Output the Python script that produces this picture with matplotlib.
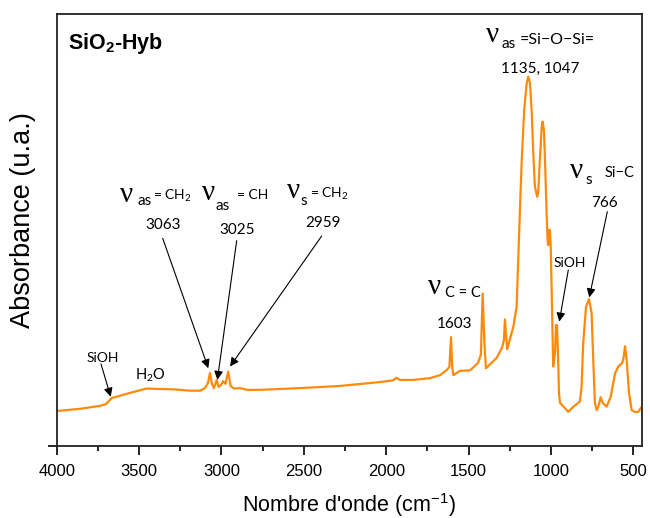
import matplotlib
matplotlib.use("Agg")
import matplotlib.pyplot as plt
from matplotlib.ticker import MultipleLocator

# ---------------- data ----------------
wavenumber = [4000, 3859, 3737, 3701, 3666, 3628, 3555, 3454, 3373, 3282, 3191, 3130,
              3100, 3082, 3070, 3058, 3046, 3029, 3018, 3003, 2991, 2976, 2959, 2945,
              2924, 2888, 2845, 2767, 2524, 2281, 2038, 1959, 1937, 1917, 1838, 1735,
              1674, 1633, 1617, 1607, 1600, 1593, 1553, 1492, 1444, 1426, 1415, 1404,
              1395, 1330, 1298, 1286, 1280, 1266, 1229, 1209, 1189, 1178, 1163, 1148,
              1138, 1128, 1118, 1108, 1098, 1084, 1078, 1068, 1057, 1051, 1043, 1035,
              1027, 1021, 1017, 1013, 1007, 1002, 996, 987, 976, 970, 964, 958, 952,
              946, 916, 896, 867, 825, 815, 805, 788, 770, 754, 744, 734, 723, 713,
              699, 687, 663, 638, 612, 592, 571, 562, 551, 541, 527, 511, 491, 471, 455]
absorbance = [8.1, 8.6, 9.3, 9.7, 11.1, 11.5, 12.3, 13.3, 13.2, 13.1, 12.8, 12.8,
              13.4, 14.6, 16.9, 14.4, 13.4, 15.3, 13.7, 14.1, 15.0, 14.4, 17.2, 13.9,
              13.3, 13.4, 13.0, 13.0, 13.4, 13.9, 14.8, 15.2, 15.8, 15.3, 15.3, 15.7,
              16.4, 17.6, 18.3, 25.2, 18.3, 16.4, 17.4, 17.5, 19.2, 21.1, 35.3, 23.4,
              18.0, 20.4, 22.7, 24.5, 29.3, 22.4, 27.6, 32.2, 54.6, 66.2, 77.8, 84.0,
              85.5, 84.0, 77.8, 67.8, 60.0, 57.7, 58.8, 66.2, 73.8, 75.1, 73.1, 63.9,
              53.9, 47.7, 46.5, 50.0, 50.0, 46.1, 35.4, 18.4, 21.5, 28.0, 28.0, 21.5, 12.3,
              10.0, 8.8, 7.9, 9.0, 10.3, 13.7, 23.8, 32.2, 34.0, 30.8, 19.9, 10.0, 8.3, 9.1,
              11.3, 10.0, 9.1, 11.4, 16.8, 18.4, 19.1, 19.9, 23.1, 19.9, 12.3, 8.3, 7.9, 7.9, 8.8]

xticks = [4000, 3500, 3000, 2500, 2000, 1500, 1000, 500]
xtick_labels = ["4000", "3500", "3000", "2500", "2000", "1500", "1000", "500"]

# arrow targets (wavenumber, absorbance)
arrow_3063 = (3080, 18.0)
arrow_3025 = (3025, 15.3)
arrow_2959 = (2948, 18.4)
arrow_siOH_left = (3672, 11.4)
arrow_siOH_right = (950, 28.8)
arrow_766 = (768, 34.4)

# ---------------- figure ----------------
plt.rcParams['mathtext.default'] = 'regular'
W, H = 650, 518
fig = plt.figure(figsize=(W / 100, H / 100), dpi=100)
L, R, T, B = 56.7, 641.7, 14, 446
ax = fig.add_axes([L / W, 1 - B / H, (R - L) / W, (B - T) / H])

ax.plot(wavenumber, absorbance, color='#FF8A0A', lw=1.6, solid_joinstyle='round')
ax.set_xlim(4000, 450)
ax.set_ylim(0, 100)

for s in ax.spines.values():
    s.set_linewidth(1.3)
    s.set_color('#222222')

ax.set_xticks(xticks)
ax.set_xticklabels(xtick_labels, fontfamily='Liberation Sans', fontsize=12)
ax.xaxis.set_minor_locator(MultipleLocator(250))
ax.tick_params(axis='x', which='major', direction='out', length=6.7, width=1.2, pad=6)
ax.tick_params(axis='x', which='minor', direction='out', length=3.6, width=1.2)
ax.tick_params(axis='x', top=False)
ax.set_yticks([0])
ax.set_yticklabels([''])
ax.tick_params(axis='y', direction='out', length=6.5, width=1.2, right=False)

ax.set_xlabel("Nombre d'onde (cm$^{-1}$)", fontfamily='Liberation Sans', fontsize=15.5)
ax.xaxis.set_label_coords(0.5, -0.104)
ax.set_ylabel("Absorbance (u.a.)", fontfamily='Liberation Sans', fontsize=19.5)
ax.yaxis.set_label_coords(-0.036, 0.522)


def P(px, py):
    return ((px - L) / (R - L), (B - py) / (B - T))


def txt(px, py, s, size=11, family='Lato', ha='left', **kw):
    ax.text(*P(px, py), s, transform=ax.transAxes, fontsize=size,
            fontfamily=family, ha=ha, va='baseline', **kw)


NU = 'Liberation Serif'

# title
txt(68, 49, "SiO$_2$-Hyb", size=15.5, family='Liberation Sans', fontweight='bold')

# Si-O-Si
txt(486, 42, "ν", size=21, family=NU)
txt(502, 48, "as", size=11)
txt(520, 44, "=Si−O−Si=", size=11.5)
txt(540, 73, "1135, 1047", size=11, ha='center')

# CH groups
txt(120, 201.5, "ν", size=21, family=NU)
txt(137, 205, "as", size=11)
txt(153, 200, "= CH$_2$", size=10)
txt(163, 229, "3063", size=11, ha='center')

txt(201.5, 200, "ν", size=21, family=NU)
txt(215, 210, "as", size=11)
txt(237, 199, "= CH", size=10)
txt(237, 234, "3025", size=11, ha='center')

txt(286.5, 198, "ν", size=21, family=NU)
txt(300, 205, "s", size=11)
txt(310, 198, "= CH$_2$", size=10)
txt(323, 227, "2959", size=11, ha='center')

# C=C
txt(427.5, 294, "ν", size=21, family=NU)
txt(445, 297, "C = C", size=10.5)
txt(455, 328, "1603", size=11, ha='center')

# Si-C
txt(570, 178, "ν", size=21, family=NU)
txt(585, 184, "s", size=11)
txt(605, 177, "Si−C", size=10.5)
txt(604, 207, "766", size=11, ha='center')

# SiOH / H2O
txt(570, 267, "SiOH", size=10, ha='center')
txt(103, 362, "SiOH", size=10, ha='center')
txt(150, 380, "H$_2$O", size=10.5, ha='center')

# arrows
def arrow(target, start_px):
    ax.annotate('', xy=target, xycoords='data', xytext=P(*start_px),
                textcoords='axes fraction',
                arrowprops=dict(arrowstyle='-|>', color='black', lw=0.8,
                                mutation_scale=13, shrinkA=0, shrinkB=0))


arrow(arrow_3063, (162.7, 238.3))
arrow(arrow_3025, (236.7, 240.7))
arrow(arrow_2959, (321.7, 236))
arrow(arrow_siOH_left, (101, 364))
arrow(arrow_siOH_right, (568.3, 270))
arrow(arrow_766, (607.3, 211.7))

fig.savefig("out.png", dpi=100)
